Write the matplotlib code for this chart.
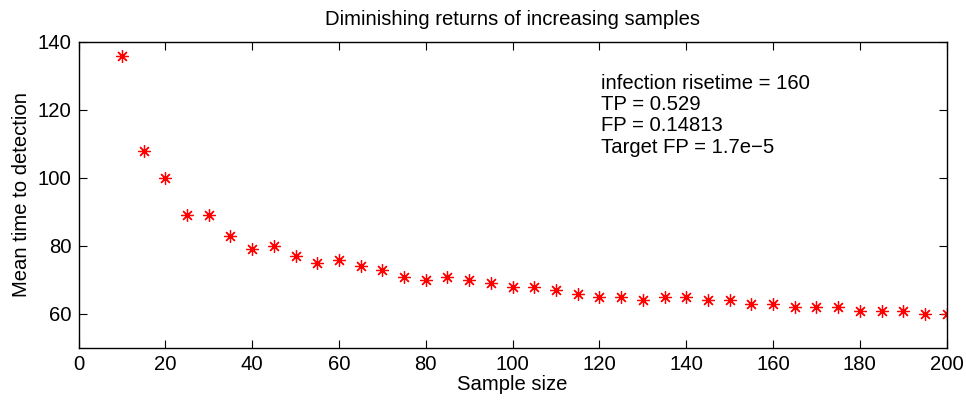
import matplotlib.pyplot as plt
import numpy as np

plt.rcParams['font.family'] = ['Liberation Sans', 'DejaVu Sans']

# sample sizes and mean detection time
sample_size = np.arange(10, 201, 5)
mean_time = [136, 108, 100, 89, 89, 83, 79, 80, 77, 75,
             76, 74, 73, 71, 70, 71, 70, 69, 68, 68,
             67, 66, 65, 65, 64, 65, 65, 64, 64, 63,
             63, 62, 62, 62, 61, 61, 61, 60, 60]

info_lines = ['infection risetime = 160', 'TP = 0.529',
              'FP = 0.14813', 'Target FP = 1.7e\u22125']

fig = plt.figure(figsize=(9.66, 4.01), dpi=100)
ax = fig.add_axes([0.0813, 0.1322, 0.8987, 0.7631])

ax.plot(sample_size, mean_time, linestyle='none', marker=(8, 2, 0),
        markersize=9, markeredgewidth=0.9, color='red')

ax.set_xlim(0, 200)
ax.set_ylim(50, 140)
ax.set_xticks(np.arange(0, 201, 20))
ax.set_yticks(np.arange(60, 141, 20))
ax.tick_params(direction='in', length=6, width=0.8, top=True, right=True,
               labelsize=14.6, pad=5)
for s in ax.spines.values():
    s.set_linewidth(1.0)

ax.set_title('Diminishing returns of increasing samples', fontsize=14.6, pad=12)
ax.set_xlabel('Sample size', fontsize=14.6, labelpad=1)
ax.set_ylabel('Mean time to detection', fontsize=14.6, labelpad=5)

ax.text(120.3, 130.5, '\n'.join(info_lines), fontsize=14.6, va='top', ha='left',
        linespacing=1.14)

fig.savefig('out.png', dpi=100)
